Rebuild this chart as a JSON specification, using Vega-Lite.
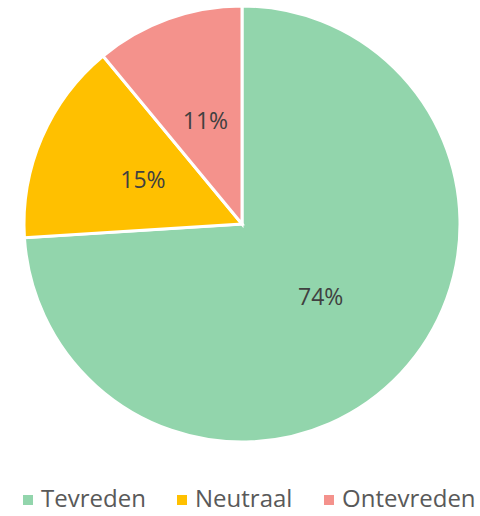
{
  "$schema": "https://vega.github.io/schema/vega-lite/v6.json",
  "width": 476,
  "height": 444,
  "autosize": {"type": "none"},
  "padding": {"left": 4, "top": 2, "right": 0, "bottom": 70},
  "background": "white",
  "config": {"view": {"stroke": null}, "font": "Open Sans"},
  "data": {
    "values": [
      {"category": "Tevreden", "value": 74, "label": "74%", "order": 1},
      {"category": "Neutraal", "value": 15, "label": "15%", "order": 2},
      {"category": "Ontevreden", "value": 11, "label": "11%", "order": 3}
    ]
  },
  "encoding": {
    "theta": {"field": "value", "type": "quantitative", "stack": true},
    "order": {"field": "order", "type": "quantitative"},
    "color": {
      "field": "category",
      "type": "nominal",
      "scale": {"domain": ["Tevreden", "Neutraal", "Ontevreden"], "range": ["#92D5AC", "#FFC000", "#F4928C"]},
      "legend": {
        "title": null,
        "orient": "none",
        "direction": "horizontal",
        "legendX": 12,
        "legendY": 486,
        "padding": 0,
        "symbolType": "square",
        "symbolSize": 100,
        "symbolStrokeWidth": 0,
        "symbolOpacity": 1,
        "labelFont": "Open Sans",
        "labelFontSize": 24,
        "labelLimit": 300,
        "labelColor": "#595959",
        "labelOffset": 1,
        "columnPadding": 24
      }
    }
  },
  "layer": [
    {
      "mark": {"type": "arc", "outerRadius": 218, "stroke": "white", "strokeWidth": 3}
    },
    {
      "mark": {"type": "text", "radius": 108, "font": "Open Sans", "fontSize": 23, "fill": "#404040"},
      "encoding": {
        "text": {"field": "label"},
        "color": {"value": "#404040"}
      }
    }
  ]
}
